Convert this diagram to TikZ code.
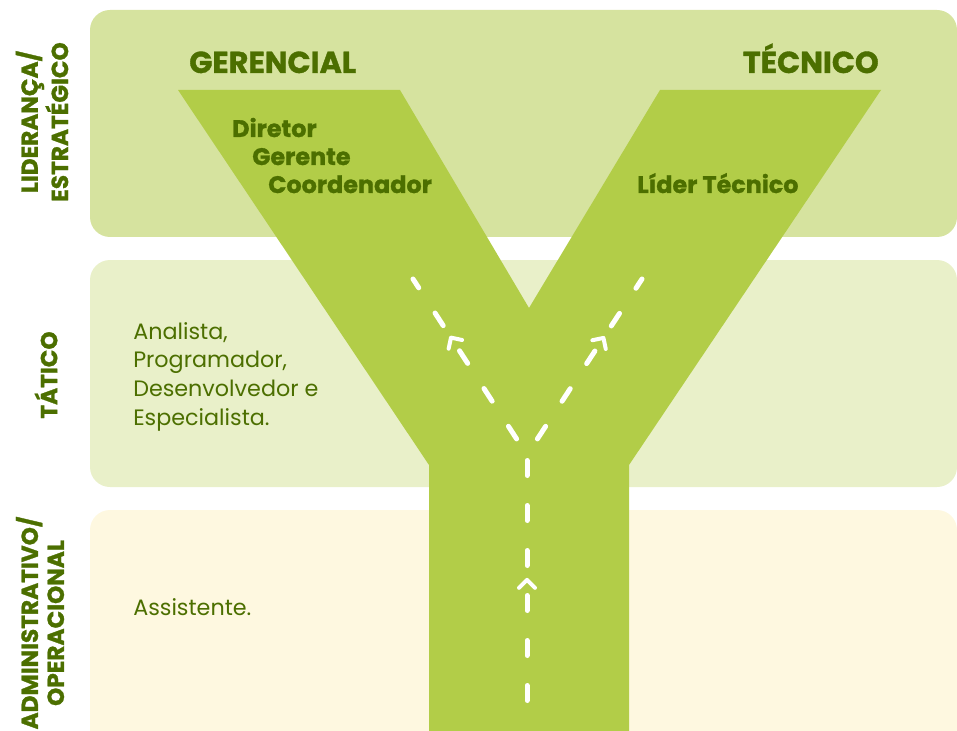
\documentclass[tikz,border=0pt]{standalone}
\usepackage{fontspec}
\setmainfont{Poppins}[BoldFeatures={FakeBold=1.2}]
\usetikzlibrary{decorations.markings,arrows.meta}

\definecolor{bandtop}{HTML}{D6E39F}
\definecolor{bandmid}{HTML}{E9F0C9}
\definecolor{bandlow}{HTML}{FEF8E0}
\definecolor{trunk}{HTML}{B2CD48}
\definecolor{leaf}{HTML}{4C6F00}

\tikzset{
  band/.style={rounded corners=15pt},
  heading/.style={text=leaf, inner sep=0pt, font=\bfseries\fontsize{22.7}{26}\selectfont},
  role/.style={text=leaf, inner sep=0pt, font=\bfseries\fontsize{17.9}{20}\selectfont},
  plain/.style={text=leaf, inner sep=0pt, align=left, font=\fontsize{16.7}{21.4}\selectfont},
  level/.style={text=leaf, inner sep=0pt, align=center, rotate=90,
    font=\bfseries\fontsize{17.4}{19.5}\selectfont},
  roadline/.style={draw=white, line width=3.75pt, line cap=round,
    dash pattern=on 11.25pt off 22.5pt,
    postaction={decorate},
    decoration={markings, mark=at position 92pt with
      {\arrow{Straight Barb[length=6pt,width=12pt,line width=3pt,round]}}}}
}

\begin{document}
\begin{tikzpicture}[x=0.75pt,y=-0.75pt]
\useasboundingbox (0,0) rectangle (957,731);
\clip (0,0) rectangle (957,731);

% horizontal level bands
\fill[bandtop, band] (90,10) rectangle (957,237);
\fill[bandmid, band] (90,260) rectangle (957,487);
\fill[bandlow, band] (90,510) rectangle (957,770);

% the Y-shaped career path
\fill[trunk] (178,90) -- (400,90) -- (529,308) -- (660,90) -- (881,90)
  -- (629,465) -- (629,740) -- (429,740) -- (429,465) -- cycle;

% dashed lanes with direction marks
\coordinate (root)   at (527,700.5);
\coordinate (fork)   at (527,460.5);
\coordinate (lstart) at (516.6,438.9);
\coordinate (lend)   at (413,279);
\coordinate (rstart) at (537.4,438.9);
\coordinate (rend)   at (642,279);
\draw[roadline] (root) -- (fork);
\draw[roadline] (lstart) -- (lend);
\draw[roadline] (rstart) -- (rend);

% branch headings
\node[heading, anchor=base west] (ger) at (189,73) {GERENCIAL};
\node[heading, anchor=base east] (tec) at (879,73) {TÉCNICO};

% roles on the branches
\node[role, anchor=base west] (dir)  at (232,137) {Diretor};
\node[role, anchor=base west] (gere) at (252,165) {Gerente};
\node[role, anchor=base west] (coo)  at (268,193) {Coordenador};
\node[role, anchor=base west] (lid)  at (637,193) {Líder Técnico};

% roles in the lower levels
\node[plain, anchor=base west] (tat) at (133,425)
  {Analista,\\Programador,\\Desenvolvedor e\\Especialista.};
\node[plain, anchor=base west] (ass) at (133,615) {Assistente.};

% level names
\node[level] (l1) at (42,122) {LIDERANÇA/\\ESTRATÉGICO};
\node[level] (l2) at (46,375) {TÁTICO};
\node[level] (l3) at (40,623) {ADMINISTRATIVO/\\OPERACIONAL};
\end{tikzpicture}
\end{document}
